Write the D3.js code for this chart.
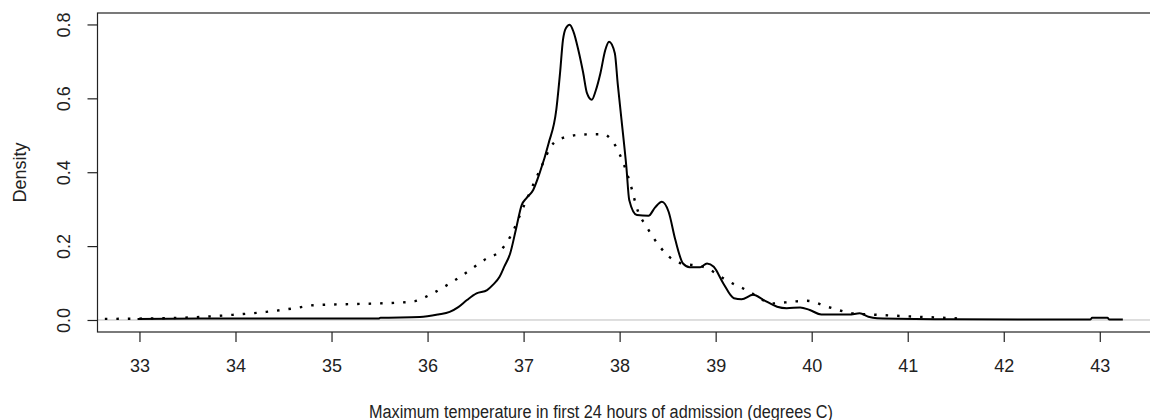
<!DOCTYPE html>
<html>
<head>
<meta charset="utf-8">
<script src="https://cdn.jsdelivr.net/npm/d3@7"></script>
<style>
  body { margin: 0; background: #fff; }
  svg { display: block; font-family: "Liberation Sans", Arial, sans-serif; }
</style>
</head>
<body>
<svg width="1150" height="420"></svg>
<script>
// solid curve: [temperature, density]
const solidX = [32.98, 33.63, 34.67, 35.49, 35.51, 35.92, 36.11, 36.23, 36.32, 36.41, 36.51, 36.62, 36.68, 36.75, 36.80, 36.86, 36.92, 36.98, 37.03, 37.10, 37.17, 37.26, 37.34, 37.38, 37.41, 37.44, 37.48, 37.52, 37.57, 37.62, 37.66, 37.71, 37.75, 37.80, 37.85, 37.89, 37.95, 37.98, 38.02, 38.07, 38.10, 38.18, 38.30, 38.37, 38.44, 38.51, 38.58, 38.66, 38.73, 38.84, 38.91, 38.98, 39.08, 39.19, 39.27, 39.39, 39.50, 39.64, 39.74, 39.88, 39.98, 40.10, 40.39, 40.50, 40.59, 40.68, 41.44, 42.38, 42.90, 42.92, 43.08, 43.10, 43.24];
const solidY = [0.003, 0.004, 0.004, 0.004, 0.006, 0.008, 0.015, 0.022, 0.035, 0.054, 0.072, 0.081, 0.095, 0.117, 0.145, 0.180, 0.245, 0.311, 0.330, 0.352, 0.400, 0.478, 0.568, 0.670, 0.758, 0.790, 0.799, 0.780, 0.731, 0.670, 0.614, 0.596, 0.620, 0.668, 0.730, 0.753, 0.722, 0.640, 0.541, 0.415, 0.325, 0.284, 0.282, 0.305, 0.320, 0.293, 0.217, 0.153, 0.143, 0.143, 0.153, 0.144, 0.099, 0.059, 0.056, 0.068, 0.054, 0.036, 0.032, 0.034, 0.027, 0.015, 0.015, 0.018, 0.009, 0.005, 0.002, 0.001, 0.001, 0.006, 0.006, 0.001, 0.001];

// dotted curve
const dottedX = [32.40, 32.56, 33.42, 33.97, 34.32, 34.64, 34.81, 35.19, 35.50, 35.85, 36.00, 36.06, 36.34, 36.62, 36.75, 36.86, 37.00, 37.17, 37.31, 37.45, 37.62, 37.83, 37.90, 38.04, 38.11, 38.19, 38.28, 38.42, 38.59, 38.91, 39.11, 39.32, 39.60, 39.81, 39.95, 40.16, 40.43, 40.68, 41.09, 41.56];
const dottedY = [0.003, 0.003, 0.006, 0.014, 0.022, 0.033, 0.040, 0.043, 0.045, 0.050, 0.065, 0.073, 0.117, 0.167, 0.185, 0.225, 0.307, 0.406, 0.478, 0.496, 0.502, 0.503, 0.492, 0.424, 0.370, 0.295, 0.253, 0.198, 0.158, 0.140, 0.108, 0.081, 0.045, 0.050, 0.052, 0.036, 0.018, 0.014, 0.009, 0.004];

const xTicks = [33, 34, 35, 36, 37, 38, 39, 40, 41, 42, 43];
const yTicks = [0.0, 0.2, 0.4, 0.6, 0.8];

const svg = d3.select('svg');
const box = { left: 97.5, top: 13, right: 1160, bottom: 332 };
const fontSize = '18px';

const x = d3.scaleLinear().domain([32.563, 43.627]).range([box.left, box.right]);
const y = d3.scaleLinear().domain([-0.0325, 0.831]).range([box.bottom, box.top]);

svg.append('clipPath').attr('id', 'plot')
  .append('rect')
    .attr('x', box.left).attr('y', box.top)
    .attr('width', box.right - box.left).attr('height', box.bottom - box.top);

// reference line at zero
svg.append('line')
  .attr('x1', box.left).attr('x2', box.right)
  .attr('y1', y(0)).attr('y2', y(0))
  .attr('stroke', '#bebebe').attr('stroke-width', 1);

const line = d3.line()
  .x(d => x(d[0]))
  .y(d => y(d[1]))
  .curve(d3.curveMonotoneX);

const curves = svg.append('g').attr('clip-path', 'url(#plot)');

curves.append('path')
  .datum(dottedX.map((v, i) => [v, dottedY[i]]))
  .attr('d', line)
  .attr('fill', 'none')
  .attr('stroke', '#000')
  .attr('stroke-width', 2.4)
  .attr('stroke-dasharray', '2.5,9');

curves.append('path')
  .datum(solidX.map((v, i) => [v, solidY[i]]))
  .attr('d', line)
  .attr('fill', 'none')
  .attr('stroke', '#000')
  .attr('stroke-width', 2)
  .attr('stroke-linejoin', 'round');

// box
svg.append('rect')
  .attr('x', box.left).attr('y', box.top)
  .attr('width', box.right - box.left).attr('height', box.bottom - box.top)
  .attr('fill', 'none').attr('stroke', '#222').attr('stroke-width', 1.2);

// x axis
const gx = svg.append('g')
  .attr('transform', `translate(0,${box.bottom})`)
  .call(d3.axisBottom(x).tickValues(xTicks).tickSize(10).tickSizeOuter(0).tickPadding(17.5));
gx.select('.domain').remove();
gx.selectAll('line').attr('stroke', '#222').attr('stroke-width', 1.2);
gx.selectAll('text').attr('fill', '#222').style('font-size', fontSize)
  .style('font-family', '"Liberation Sans", Arial, sans-serif');

// y axis
const gy = svg.append('g')
  .attr('transform', `translate(${box.left},0)`)
  .call(d3.axisLeft(y).tickValues(yTicks).tickSize(10).tickSizeOuter(0).tickFormat(d3.format('.1f')));
gy.select('.domain').remove();
gy.selectAll('line').attr('stroke', '#222').attr('stroke-width', 1.2);
gy.selectAll('text')
  .attr('fill', '#222')
  .attr('x', null).attr('dy', null)
  .attr('transform', 'translate(-34,0) rotate(-90)')
  .attr('text-anchor', 'middle')
  .attr('dominant-baseline', 'central')
  .style('font-size', fontSize)
  .style('font-family', '"Liberation Sans", Arial, sans-serif');

// axis titles
svg.append('text')
  .attr('x', 601).attr('y', 417.5)
  .attr('text-anchor', 'middle')
  .attr('fill', '#222')
  .attr('textLength', 464)
  .attr('lengthAdjust', 'spacingAndGlyphs')
  .style('font-size', fontSize)
  .text('Maximum temperature in first 24 hours of admission (degrees C)');

svg.append('text')
  .attr('transform', `translate(20,${(box.top + box.bottom) / 2}) rotate(-90)`)
  .attr('text-anchor', 'middle')
  .attr('dominant-baseline', 'central')
  .attr('fill', '#222')
  .style('font-size', fontSize)
  .text('Density');
</script>
</body>
</html>
